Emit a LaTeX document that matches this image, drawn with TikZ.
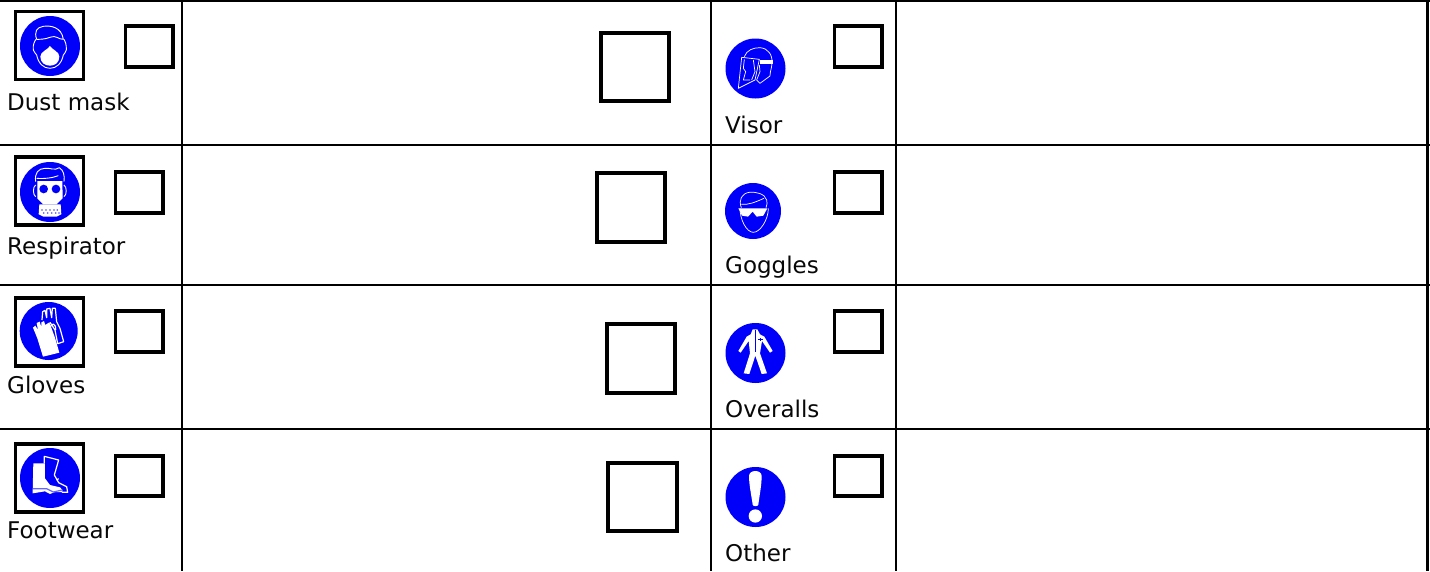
\documentclass[tikz,border=0pt]{standalone}
\usepackage{fontspec}
\setmainfont{DejaVu Sans}
\definecolor{signblue}{RGB}{0,0,250}
\definecolor{inkblack}{RGB}{8,8,8}
\tikzset{
  gridline/.style={line width=2.7pt,draw=black},
  checkbox/.style={line width=3.7pt,draw=black},
  bigbox/.style={line width=3.1pt,draw=black},
  iconframe/.style={line width=3.1pt,draw=black},
  disc/.style={fill=signblue,draw=none},
  thinw/.style={draw=white,line width=0.9pt,line join=round},
  fillw/.style={fill=white,draw=none},
  lab/.style={anchor=base west,inner sep=0pt,text=inkblack,font=\fontsize{23}{26}\selectfont},
  zoomed/.style={x=0.3333pt,y=-0.3333pt},
}
\begin{document}
\begin{tikzpicture}[x=1pt,y=-1pt]
\useasboundingbox (0,0) rectangle (1430,571);
\fill[white] (0,0) rectangle (1430,571);
% grid
\draw[gridline] (0,0.7) -- (1430,0.7);
\draw[gridline] (0,145) -- (1430,145);
\draw[gridline] (0,285) -- (1430,285);
\draw[gridline] (0,429) -- (1430,429);
\draw[gridline] (182,0) -- (182,571);
\draw[gridline] (711,0) -- (711,571);
\draw[gridline] (896,0) -- (896,571);
\draw[gridline] (1427.5,0) -- (1427.5,571);
% small check boxes
\draw[checkbox] (125.5,26) rectangle (173,67);
\draw[checkbox] (115.5,172) rectangle (163,213);
\draw[checkbox] (115.5,311) rectangle (163,352);
\draw[checkbox] (115.5,456) rectangle (163,496);
\draw[checkbox] (834.5,26) rectangle (882,67);
\draw[checkbox] (834.5,172) rectangle (882,213);
\draw[checkbox] (834.5,311) rectangle (882,352);
\draw[checkbox] (834.5,456) rectangle (882,496);
% large boxes
\draw[bigbox] (601,33) rectangle (669,101);
\draw[bigbox] (597,173) rectangle (665,242);
\draw[bigbox] (607,324) rectangle (675,393);
\draw[bigbox] (608,463) rectangle (677,531);
% frames
\draw[iconframe] (15.5,11.5) rectangle (83.5,79.5);
\draw[iconframe] (15.5,157) rectangle (83.5,225);
\draw[iconframe] (15.5,298) rectangle (83.5,366);
\draw[iconframe] (15.5,444) rectangle (83.5,512);
% labels
\node[lab] (l1) at (7,110) {Dust mask};
\node[lab] (l2) at (7,254) {Respirator};
\node[lab] (l3) at (7,393.5) {Gloves};
\node[lab] (l4) at (7,538) {Footwear};
\node[lab] (l5) at (725,133) {Visor};
\node[lab] (l6) at (725,273) {Goggles};
\node[lab] (l7) at (725,417) {Overalls};
\node[lab] (l8) at (725,561) {Other};
% discs
\fill[disc] (50,46) circle (30);
\fill[disc] (50,192) circle (30);
\fill[disc] (48.7,331) circle (29);
\fill[disc] (50,478) circle (30);
\fill[disc] (755.5,68.5) circle (30);
\fill[disc] (753,211) circle (28);
\fill[disc] (755.5,353) circle (30);
\fill[disc] (755.5,497) circle (30);
% dust mask
\begin{scope}[zoomed]
\draw[thinw] (110,118) .. controls (102,95) and (110,82) .. (130,79) .. controls (150,76) and (185,80) .. (190,118) .. controls (172,118) and (172,105) .. (150,112) .. controls (135,118) and (120,118) .. (110,118);
\draw[thinw] (108,118) .. controls (103,125) and (98,135) .. (100,150) .. controls (102,160) and (108,158) .. (110,165) .. controls (115,190) and (130,205) .. (150,205) .. controls (170,205) and (185,190) .. (190,165) .. controls (192,158) and (198,160) .. (199,150) .. controls (200,135) and (196,125) .. (192,118);
\fill[fillw] (150,138) .. controls (158,150) and (178,155) .. (178,170) .. controls (178,188) and (165,197) .. (150,197) .. controls (135,197) and (121,188) .. (121,170) .. controls (121,155) and (142,150) .. (150,138) -- cycle;
\end{scope}
% respirator
\begin{scope}[zoomed,yshift=-145pt]
\draw[thinw] (107,110) .. controls (103,85) and (115,70) .. (135,70) .. controls (150,68) and (165,78) .. (178,68) .. controls (190,75) and (195,92) .. (192,110);
\draw[thinw] (110,100) .. controls (135,102) and (160,98) .. (175,92);
\draw[thinw] (107,120) .. controls (98,125) and (98,150) .. (107,155);
\draw[thinw] (192,120) .. controls (201,125) and (201,150) .. (192,155);
\fill[fillw] (112,108) -- (187,108) -- (188,160) -- (170,178) -- (130,178) -- (112,160) -- cycle;
\fill[signblue] (131,132) circle (13);
\fill[signblue] (168,132) circle (13);
\fill[fillw] (118,178) -- (182,178) -- (184,208) -- (170,215) -- (130,215) -- (116,208) -- cycle;
\foreach \xx in {126,138,150,162,172} {
  \fill[signblue!70] (\xx,195) circle (2.6);
  \fill[signblue!70] (\xx+5,204) circle (2.6);
}
\end{scope}
% gloves
\begin{scope}[zoomed,yshift=-285pt]
\draw[thinw,line width=1.2pt] (126,105) -- (128,80) -- (135,76) -- (140,98) -- (140,72) -- (150,70) -- (155,98) -- (157,70) -- (166,70) -- (170,110) -- (180,130) -- (191,170) -- (173,176) -- (165,135) -- (150,112);
\draw[thinw,line width=1.2pt] (150,130) .. controls (155,110) and (168,115) .. (167,135);
\fill[fillw] (129,215) -- (178,203) -- (165,158) -- (148,112) -- (136,120) -- (132,108) -- (124,112) -- (124,126) -- (119,110) -- (110,114) -- (114,135) -- (106,122) -- (99,128) -- (112,160) -- cycle;
\end{scope}
% footwear
\begin{scope}[zoomed,yshift=-430pt]
\draw[thinw,line width=1.2pt] (133,100) -- (133,79) -- (176,90) -- (163,135) -- (176,158) -- (200,170) -- (203,187) -- (186,187);
\draw[thinw,line width=1.2pt] (170,150) -- (176,146);
\fill[fillw] (100,100) -- (135,100) -- (135,145) -- (150,165) -- (180,172) -- (187,180) -- (187,186) -- (165,186) -- (150,192) -- (135,184) -- (98,190) -- cycle;
\draw[signblue!60,line width=1.2pt] (98,176) -- (140,176) -- (160,186) -- (187,180);
\end{scope}
% visor
\begin{scope}[zoomed,xshift=710pt]
\draw[thinw,line width=0.7pt] (103,170) .. controls (110,150) and (130,143) .. (150,143) .. controls (175,145) and (188,165) .. (186,190) .. controls (185,205) and (180,215) .. (180,228) -- (150,250) -- (140,240) -- (150,215) -- (148,195);
\draw[thinw,line width=0.7pt] (95,172) -- (148,178) -- (135,240) -- (85,265) -- cycle;
\draw[thinw,line width=0.7pt] (103,178) -- (100,205) -- (107,215) -- (100,240) -- (120,240);
\draw[thinw,line width=0.7pt] (130,180) -- (135,215) -- (125,240);
\fill[fillw] (150,180) rectangle (189,191);
\end{scope}
% goggles
\begin{scope}[zoomed,xshift=710pt,yshift=-145pt]
\draw[thinw,line width=0.7pt] (94,188) .. controls (85,165) and (95,145) .. (118,142) .. controls (135,140) and (165,145) .. (170,165) .. controls (172,172) and (172,180) .. (168,188);
\draw[thinw,line width=0.7pt] (94,178) .. controls (115,180) and (135,172) .. (162,160);
\draw[thinw,line width=0.7pt] (90,190) .. controls (90,225) and (110,262) .. (130,262) .. controls (150,262) and (175,225) .. (175,190);
\fill[fillw] (85,190) -- (172,190) -- (160,212) -- (140,215) -- (128,200) -- (114,215) -- (96,212) -- cycle;
\end{scope}
% overalls
\begin{scope}[zoomed,xshift=710pt,yshift=-285pt]
\fill[fillw] (128,133) -- (142,133) -- (150,148) -- (163,155) -- (188,198) -- (180,203) -- (156,168) -- (150,205) -- (171,265) -- (155,267) -- (136,212) -- (118,267) -- (101,265) -- (120,205) -- (116,168) -- (92,203) -- (85,198) -- (110,155) -- (122,148) -- cycle;
\draw[signblue,line width=0.8pt] (135,135) -- (135,200);
\draw[signblue,line width=0.6pt] (145,163) -- (158,163) (150,159) -- (150,168);
\end{scope}
% other
\begin{scope}[zoomed,xshift=710pt,yshift=-430pt]
\fill[fillw] (117,138) .. controls (117,118) and (155,118) .. (155,138) .. controls (155,165) and (148,200) .. (145,224) .. controls (143,230) and (130,230) .. (128,224) .. controls (125,200) and (117,165) .. (117,138) -- cycle;
\fill[fillw] (136,258) circle (20);
\end{scope}
\end{tikzpicture}
\end{document}
